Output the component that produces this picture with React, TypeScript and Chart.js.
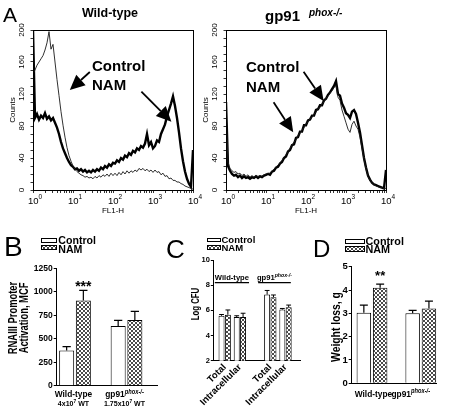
import React, { useEffect, useRef } from 'react';
import { Chart, registerables } from 'chart.js';

Chart.register(...registerables);

const FONT = 'Arial, "Liberation Sans", Helvetica, sans-serif';
Chart.defaults.font.family = FONT;

/* ---------------- Panel A: flow cytometry histograms ---------------- */
const fl1Decades = [
  0, 0.05, 0.1, 0.15, 0.2, 0.25, 0.3, 0.35, 0.4, 0.45,
  0.5, 0.55, 0.6, 0.65, 0.7, 0.75, 0.8, 0.85, 0.9, 0.95,
  1, 1.05, 1.1, 1.15, 1.2, 1.25, 1.3, 1.35, 1.4, 1.45,
  1.5, 1.55, 1.6, 1.65, 1.7, 1.75, 1.8, 1.85, 1.9, 1.95,
  2, 2.05, 2.1, 2.15, 2.2, 2.25, 2.3, 2.35, 2.4, 2.45,
  2.5, 2.55, 2.6, 2.65, 2.7, 2.75, 2.8, 2.85, 2.9, 2.95,
  3, 3.05, 3.1, 3.15, 3.2, 3.25, 3.3, 3.35, 3.4, 3.45,
  3.5, 3.55, 3.6, 3.65, 3.7, 3.75, 3.8, 3.85, 3.9, 3.95,
  4,
];
const wtControlCounts = [
  145, 150, 156, 160, 164, 168, 175, 184, 198, 176,
  182, 160, 138, 118, 98, 81, 66, 53, 43, 36,
  30, 26, 23, 21, 19, 18, 16, 17, 15, 16,
  14, 17, 15, 18, 16, 19, 17, 20, 17, 21,
  18, 21, 18, 22, 19, 23, 20, 24, 21, 24,
  22, 25, 23, 27, 25, 27, 24, 26, 23, 25,
  22, 25, 22, 23, 19, 21, 17, 18, 14, 15,
  12, 12, 10, 10, 8, 7, 5, 4, 3, 2,
  1,
];
const wtNamCounts = [
  200, 90, 95, 88, 93, 90, 96, 89, 92, 87,
  90, 84, 78, 70, 60, 52, 46, 40, 35, 31,
  29, 26, 27, 24, 26, 23, 25, 22, 24, 22,
  25, 23, 26, 24, 28, 26, 30, 28, 32, 30,
  34, 33, 37, 35, 40, 38, 43, 41, 46, 44,
  49, 47, 52, 50, 55, 53, 58, 70, 56, 60,
  52, 55, 62, 60, 70, 76, 82, 92, 100, 108,
  117, 105, 90, 72, 52, 36, 23, 14, 8, 4,
  50,
];
const gpControlCounts = [
  100, 35, 27, 24, 22, 23, 20, 21, 18, 20,
  17, 19, 16, 18, 16, 18, 17, 18, 17, 19,
  20, 21, 21, 24, 26, 29, 31, 34, 37, 41,
  44, 48, 52, 56, 60, 63, 68, 71, 75, 78,
  83, 85, 89, 91, 95, 97, 102, 103, 108, 110,
  115, 117, 121, 124, 128, 131, 116, 112, 100, 92,
  84, 76, 72, 82, 86, 80, 76, 66, 52, 38,
  26, 17, 12, 9, 7, 5, 4, 3, 3, 2,
  2,
];
const gpNamCounts = [
  110, 30, 24, 20, 18, 19, 16, 18, 15, 17,
  15, 16, 14, 16, 15, 17, 15, 17, 16, 18,
  19, 20, 19, 23, 24, 28, 29, 33, 35, 40,
  42, 48, 50, 56, 57, 65, 66, 73, 73, 81,
  81, 87, 88, 93, 93, 100, 101, 106, 106, 112,
  114, 119, 122, 126, 130, 136, 120, 118, 108, 103,
  96, 94, 90, 98, 100, 95, 84, 72, 56, 40,
  28, 18, 13, 9, 7, 6, 5, 4, 3, 2,
  25,
];
const countTicks = [0, 40, 80, 120, 160, 200];
const fl1Exponents = ['0', '1', '2', '3', '4'];
const countsTitle = 'Counts';
const fl1Title = 'FL1-H';

/* ---------------- Panel B: RNAIII promoter activation ---------------- */
const genotypes = ['Wild-type', 'gp91'];
const genotypeSup = ['', 'phox-/-'];
const inoculumBase = ['4x10', '1.75x10'];
const inoculumExp = ['7', '7'];
const inoculumTail = [' WT', ' WT'];
const rnaControl = [375, 635];
const rnaControlErr = [415, 695];
const rnaNam = [908, 700];
const rnaNamErr = [1015, 792];
const rnaNamSig = ['***', ''];

/* ---------------- Panel C: Log CFU ---------------- */
const cfuCategories = ['Total', 'Intracellular', '', 'Total', 'Intracellular'];
const cfuControl = [5.57, 5.47, null, 7.25, 6.06];
const cfuControlErr = [5.67, 5.57, null, 7.58, 6.15];
const cfuNam = [5.65, 5.47, null, 7.05, 6.25];
const cfuNamErr = [6.03, 5.77, null, 7.22, 6.42];
const cfuGroupNames = ['Wild-type', 'gp91'];
const cfuGroupSup = ['', 'phox-/-'];

/* ---------------- Panel D: weight loss ---------------- */
const weightControl = [3.03, 3.0];
const weightControlErr = [3.35, 3.13];
const weightNam = [4.1, 3.21];
const weightNamErr = [4.25, 3.52];
const weightNamSig = ['**', ''];

const seriesNames = ['Control', 'NAM'];

/* ---------------- helpers ---------------- */
type Run = { t: string; size: number; weight?: string; italic?: boolean; dy?: number };
const fontOf = (r: Run) => `${r.italic ? 'italic ' : ''}${r.weight || 'normal'} ${r.size}px ${FONT}`;

function drawRuns(ctx: CanvasRenderingContext2D, runs: Run[], x: number, y: number, align = 'left', sx = 1) {
  ctx.save();
  ctx.textAlign = 'left';
  ctx.textBaseline = 'alphabetic';
  ctx.fillStyle = '#000';
  let w = 0;
  runs.forEach((r) => { ctx.font = fontOf(r); w += ctx.measureText(r.t).width; });
  w *= sx;
  const cx = align === 'center' ? x - w / 2 : align === 'right' ? x - w : x;
  ctx.translate(cx, y);
  ctx.scale(sx, 1);
  let ox = 0;
  runs.forEach((r) => { ctx.font = fontOf(r); ctx.fillText(r.t, ox, r.dy || 0); ox += ctx.measureText(r.t).width; });
  ctx.restore();
}

function drawArrow(ctx: CanvasRenderingContext2D, x1: number, y1: number, x2: number, y2: number) {
  const head = 15, hw = 7;
  const a = Math.atan2(y2 - y1, x2 - x1);
  const bx = x2 - head * Math.cos(a), by = y2 - head * Math.sin(a);
  ctx.lineWidth = 1.8;
  ctx.beginPath(); ctx.moveTo(x1, y1); ctx.lineTo(bx, by); ctx.stroke();
  ctx.beginPath();
  ctx.moveTo(x2, y2);
  ctx.lineTo(bx + hw * Math.sin(a), by - hw * Math.cos(a));
  ctx.lineTo(bx - hw * Math.sin(a), by + hw * Math.cos(a));
  ctx.closePath(); ctx.fill();
}

let hatchCanvas: HTMLCanvasElement | null = null;
function hatchTile() {
  if (!hatchCanvas) {
    const c = document.createElement('canvas');
    c.width = 4; c.height = 4;
    const g = c.getContext('2d')!;
    g.fillStyle = '#fff'; g.fillRect(0, 0, 4, 4);
    g.fillStyle = '#4a4a4a';
    [[0, 0], [1, 1], [2, 2], [3, 3], [3, 0], [2, 1], [1, 2], [0, 3]].forEach(([px, py]) => g.fillRect(px, py, 1, 1));
    hatchCanvas = c;
  }
  return hatchCanvas;
}

type Frame = { left: number; top: number; width: number; height: number; area: { l: number; t: number; r: number; b: number } };
function frameLayout(f: Frame) {
  return {
    padding: { left: 0, top: f.area.t - f.top, right: f.left + f.width - f.area.r, bottom: 0 },
    yW: f.area.l - f.left,
    xH: f.top + f.height - f.area.b,
  };
}

/* ---------------- histogram config ---------------- */
const logTickValues: number[] = [];
for (let n = 0; n < 4; n++) for (let k = 1; k < 10; k++) logTickValues.push(n + Math.log10(k));
logTickValues.push(4);

type Annot = { texts: { t: string; x: number; y: number }[]; arrows: number[][] };
const annotWT: Annot = {
  texts: [{ t: seriesNames[0], x: 1.475, y: 148.5 }, { t: seriesNames[1], x: 1.475, y: 125 }],
  arrows: [[1.42, 147.5, 0.92, 125], [2.71, 122.9, 3.46, 85.4]],
};
const annotGP: Annot = {
  texts: [{ t: seriesNames[0], x: 0.5, y: 147 }, { t: seriesNames[1], x: 0.5, y: 123 }],
  arrows: [[1.19, 109.6, 1.68, 72.1], [1.94, 147.9, 2.44, 111.3]],
};

const histDecor = (annot: Annot) => ({
  id: 'histDecor',
  afterDraw(chart: any) {
    const { ctx, chartArea: a } = chart;
    const x = chart.scales.x, y = chart.scales.y;
    ctx.save();
    ctx.strokeStyle = '#000'; ctx.fillStyle = '#000'; ctx.lineWidth = 1;
    ctx.strokeRect(Math.round(a.left) + 0.5, Math.round(a.top) + 0.5, Math.round(a.right - a.left), Math.round(a.bottom - a.top));
    ctx.font = `8px ${FONT}`; ctx.textAlign = 'center'; ctx.textBaseline = 'middle';
    countTicks.forEach((v) => {
      ctx.save(); ctx.translate(a.left - 11, y.getPixelForValue(v)); ctx.rotate(-Math.PI / 2); ctx.fillText(String(v), 0, 0); ctx.restore();
    });
    ctx.save(); ctx.translate(a.left - 20, y.getPixelForValue(100)); ctx.rotate(-Math.PI / 2); ctx.fillText(countsTitle, 0, 0); ctx.restore();
    fl1Exponents.forEach((e) => drawRuns(ctx, [{ t: '10', size: 9.5 }, { t: e, size: 6.5, dy: -5 }], x.getPixelForValue(Number(e)) + 2, a.bottom + 14, 'center'));
    drawRuns(ctx, [{ t: fl1Title, size: 8 }], (a.left + a.right) / 2, a.bottom + 23, 'center');
    annot.texts.forEach((tx) => drawRuns(ctx, [{ t: tx.t, size: 15, weight: 'bold' }], x.getPixelForValue(tx.x), y.getPixelForValue(tx.y), 'left'));
    annot.arrows.forEach(([x1, y1, x2, y2]) => drawArrow(ctx, x.getPixelForValue(x1), y.getPixelForValue(y1), x.getPixelForValue(x2), y.getPixelForValue(y2)));
    ctx.restore();
  },
});

function histConfig(lay: any, thin: number[], thick: number[], annot: Annot) {
  const tickGrid = (len: number) => ({ display: true, drawOnChartArea: false, drawTicks: true, tickLength: len, color: '#000', lineWidth: 0.8 });
  return {
    type: 'line',
    data: {
      datasets: [
        { data: fl1Decades.map((x, i) => ({ x, y: thin[i] })), borderColor: '#1a1a1a', borderWidth: 0.9, pointRadius: 0, fill: false, tension: 0 },
        { data: fl1Decades.map((x, i) => ({ x, y: thick[i] })), borderColor: '#000', borderWidth: 2.4, pointRadius: 0, fill: false, tension: 0 },
      ],
    },
    options: {
      animation: false, responsive: false, events: [], devicePixelRatio: 1,
      layout: { padding: lay.padding },
      plugins: { legend: { display: false }, tooltip: { enabled: false } },
      scales: {
        x: {
          type: 'linear', min: 0, max: 4,
          afterBuildTicks: (s: any) => { s.ticks = logTickValues.map((v) => ({ value: v })); },
          ticks: { display: false },
          grid: tickGrid(3),
          border: { display: true, color: '#000', width: 1 },
          afterFit: (s: any) => { s.height = lay.xH; },
        },
        y: {
          type: 'linear', min: 0, max: 200,
          ticks: { display: false, stepSize: 10 },
          grid: tickGrid(2.5),
          border: { display: true, color: '#000', width: 1 },
          afterFit: (s: any) => { s.width = lay.yW; },
        },
      },
    },
    plugins: [histDecor(annot)],
  };
}

/* ---------------- bar config ---------------- */
const errorBars = (capRatio: number, errWidth: number, sigSize: number, sigDy: number) => ({
  id: 'errorBars',
  afterDatasetsDraw(chart: any) {
    const { ctx } = chart; const y = chart.scales.y;
    ctx.save(); ctx.strokeStyle = '#000'; ctx.fillStyle = '#000'; ctx.lineWidth = errWidth;
    chart.data.datasets.forEach((ds: any, d: number) => {
      const meta = chart.getDatasetMeta(d);
      ds.data.forEach((p: any, j: number) => {
        const el = meta.data[j]; if (!el || p.err == null) return;
        const yt = y.getPixelForValue(p.err), yb = y.getPixelForValue(p.y);
        const half = (el.width * capRatio) / 2;
        ctx.beginPath(); ctx.moveTo(el.x, yb); ctx.lineTo(el.x, yt); ctx.moveTo(el.x - half, yt); ctx.lineTo(el.x + half, yt); ctx.stroke();
        if (p.sig) {
          ctx.font = `bold ${sigSize}px ${FONT}`; ctx.textAlign = 'center'; ctx.textBaseline = 'alphabetic';
          ctx.fillText(p.sig, el.x, yt + sigDy);
        }
      });
    });
    ctx.restore();
  },
});

const groupLabels = (rows: Run[][][], baselines: number[], dx: number[], sx: number) => ({
  id: 'groupLabels',
  afterDraw(chart: any) {
    const x = chart.scales.x; const b = chart.chartArea.bottom;
    rows.forEach((row, li) => row.forEach((runs, gi) => drawRuns(chart.ctx, runs, x.getPixelForValue(gi) + dx[gi], b + baselines[li], 'center', sx)));
  },
});

function barConfig(lay: any, s: any) {
  const pts = (vals: any[], errs: any[], sigs?: string[]) =>
    s.categories.map((_: any, i: number) => (vals[i] == null ? null : { x: i, y: vals[i], err: errs[i], sig: sigs ? sigs[i] : '' })).filter((p: any) => p);
  const hatch = (hatchTile().getContext('2d') as CanvasRenderingContext2D).createPattern(hatchTile(), 'repeat');
  const common = { borderColor: '#000', borderWidth: 1, categoryPercentage: s.catPct, barPercentage: s.barPct };
  return {
    type: 'bar',
    data: {
      datasets: [
        { label: seriesNames[0], data: pts(s.control, s.controlErr), backgroundColor: '#fff', ...common },
        { label: seriesNames[1], data: pts(s.nam, s.namErr, s.namSig), backgroundColor: hatch, ...common },
      ],
    },
    options: {
      animation: false, responsive: false, events: [], devicePixelRatio: 1,
      layout: { padding: lay.padding },
      plugins: { legend: { display: false }, tooltip: { enabled: false } },
      scales: {
        x: {
          type: 'linear', offset: false, min: s.xMin, max: s.xMax,
          afterBuildTicks: (sc: any) => { sc.ticks = s.categories.map((c: string, i: number) => (c ? { value: i } : null)).filter((t: any) => t); },
          ticks: {
            display: !!s.rotatedLabels, autoSkip: false, minRotation: 45, maxRotation: 45, padding: 1, color: '#000',
            font: { family: FONT, weight: 'bold', size: s.labelSize || 9 },
            callback: (v: any) => s.categories[Number(v)],
          },
          grid: { display: true, drawOnChartArea: false, drawTicks: false, offset: false },
          border: { display: true, color: '#000', width: 1 },
          afterFit: (sc: any) => { sc.height = lay.xH; },
        },
        y: {
          type: 'linear', min: s.yMin, max: s.yMax,
          ticks: {
            stepSize: s.yStep, padding: 1, color: '#000', font: { family: FONT, weight: 'bold', size: s.tickSize },
            callback: (v: any) => String(v),
          },
          grid: { display: true, drawOnChartArea: false, drawTicks: true, tickLength: s.tickLength, color: '#000', lineWidth: 1 },
          border: { display: true, color: '#000', width: 1 },
          afterFit: (sc: any) => { sc.width = lay.yW; },
        },
      },
    },
    plugins: [errorBars(s.capRatio, s.errWidth, s.sigSize, s.sigDy), ...(s.extra || [])],
  };
}

/* label runs */
const genotypeRuns = (size: number, supSize: number, supDy: number): Run[][] =>
  genotypes.map((g, i) => [
    { t: g, size, weight: 'bold' },
    ...(genotypeSup[i] ? [{ t: genotypeSup[i], size: supSize, weight: 'bold', italic: true, dy: supDy }] : []),
  ]);
const inoculumRuns: Run[][] = inoculumBase.map((b, i) => [
  { t: b, size: 8, weight: 'bold' },
  { t: inoculumExp[i], size: 5.5, weight: 'bold', dy: -3 },
  { t: inoculumTail[i], size: 8, weight: 'bold' },
]);

const cfuBracketLevel = 8.2;
const cfuBracketSpans = [[-0.65, 1.6], [2.2, 4.35]];
const cfuBrackets = {
  id: 'cfuBrackets',
  afterDraw(chart: any) {
    const { ctx } = chart; const x = chart.scales.x, y = chart.scales.y;
    const py = y.getPixelForValue(cfuBracketLevel);
    cfuBracketSpans.forEach(([a, b], i) => {
      const x1 = x.getPixelForValue(a), x2 = x.getPixelForValue(b);
      ctx.save(); ctx.strokeStyle = '#000'; ctx.lineWidth = 1.2;
      ctx.beginPath(); ctx.moveTo(x1, py); ctx.lineTo(x2, py); ctx.stroke(); ctx.restore();
      const runs: Run[] = [{ t: cfuGroupNames[i], size: 8, weight: 'bold' }];
      if (cfuGroupSup[i]) runs.push({ t: cfuGroupSup[i], size: 5.5, weight: 'bold', italic: true, dy: -3 });
      drawRuns(ctx, runs, (x1 + x2) / 2, py - 2.5, 'center', 0.95);
    });
  },
};

/* ---------------- frames ---------------- */
const frameAL: Frame = { left: 0, top: 0, width: 215, height: 215, area: { l: 33, t: 30, r: 193, b: 190 } };
const frameAR: Frame = { left: 200, top: 0, width: 215, height: 215, area: { l: 226, t: 30, r: 386, b: 190 } };
const frameB: Frame = { left: 0, top: 255, width: 170, height: 157, area: { l: 56.7, t: 268.3, r: 157, b: 385.7 } };
const frameC: Frame = { left: 165, top: 250, width: 145, height: 162, area: { l: 213.3, t: 260, r: 300, b: 360.7 } };
const frameD: Frame = { left: 310, top: 255, width: 140, height: 157, area: { l: 351.7, t: 266.7, r: 436.7, b: 383.3 } };

function ChartCanvas({ frame, build }: { frame: Frame; build: (lay: any) => any }) {
  const ref = useRef<HTMLCanvasElement>(null);
  useEffect(() => {
    const chart = new Chart(ref.current as HTMLCanvasElement, build(frameLayout(frame)) as any);
    return () => chart.destroy();
  }, []);
  return (
    <canvas ref={ref} width={frame.width} height={frame.height}
      style={{ position: 'absolute', left: frame.left, top: frame.top, width: frame.width, height: frame.height }} />
  );
}

function Txt({ x, y, size, weight = 'normal', italic = false, align = 'left', children }: any) {
  return (
    <div style={{
      position: 'absolute', left: x, top: y - 0.8465 * size, fontFamily: FONT, fontSize: size, lineHeight: `${size}px`,
      fontWeight: weight, fontStyle: italic ? 'italic' : 'normal', whiteSpace: 'nowrap', color: '#000',
      transform: align === 'center' ? 'translateX(-50%)' : undefined,
    }}>{children}</div>
  );
}

function VTxt({ cx, cy, size, weight = 'bold', sx = 1, children }: any) {
  return (
    <div style={{
      position: 'absolute', left: cx, top: cy, fontFamily: FONT, fontSize: size, lineHeight: `${size}px`,
      fontWeight: weight, whiteSpace: 'nowrap', color: '#000',
      transform: `translate(-50%,-50%) rotate(-90deg) scaleX(${sx})`,
    }}>{children}</div>
  );
}

function Swatch({ x, y, w, h, hatch }: any) {
  return (
    <div style={{
      position: 'absolute', left: x, top: y, width: w, height: h, boxSizing: 'border-box', border: '1px solid #000',
      background: hatch ? `url(${hatchTile().toDataURL()})` : '#fff',
    }} />
  );
}

function Legend({ x, y1, y2, w, h, tx, b1, b2, size }: any) {
  return (
    <>
      <Swatch x={x} y={y1} w={w} h={h} hatch={false} />
      <Swatch x={x} y={y2} w={w} h={h} hatch={true} />
      <Txt x={tx} y={b1} size={size} weight="bold">{seriesNames[0]}</Txt>
      <Txt x={tx} y={b2} size={size} weight="bold">{seriesNames[1]}</Txt>
    </>
  );
}

export default function App() {
  return (
    <div style={{ position: 'absolute', left: 0, top: 0, width: 450, height: 412, background: '#fff', overflow: 'hidden' }}>
      <ChartCanvas frame={frameAL} build={(lay) => histConfig(lay, wtControlCounts, wtNamCounts, annotWT)} />
      <ChartCanvas frame={frameAR} build={(lay) => histConfig(lay, gpControlCounts, gpNamCounts, annotGP)} />
      <ChartCanvas frame={frameB} build={(lay) => barConfig(lay, {
        categories: genotypes, control: rnaControl, controlErr: rnaControlErr, nam: rnaNam, namErr: rnaNamErr, namSig: rnaNamSig,
        yMin: 0, yMax: 1250, yStep: 250, xMin: -0.3553, xMax: 1.592, catPct: 0.648, barPct: 0.9,
        capRatio: 0.55, errWidth: 1.2, sigSize: 14, sigDy: 1, tickSize: 8.5, tickLength: 3,
        extra: [groupLabels([genotypeRuns(9.5, 6.5, -3.5), inoculumRuns], [11.3, 19.8], [-1.5, -2], 0.88)],
      })} />
      <ChartCanvas frame={frameC} build={(lay) => barConfig(lay, {
        categories: cfuCategories, control: cfuControl, controlErr: cfuControlErr, nam: cfuNam, namErr: cfuNamErr, namSig: null,
        yMin: 2, yMax: 10, yStep: 2, xMin: -0.75, xMax: 4.954, catPct: 0.835, barPct: 0.945,
        capRatio: 0.8, errWidth: 1, sigSize: 10, sigDy: 0, tickSize: 7.5, tickLength: 2.5,
        rotatedLabels: true, labelSize: 9.5, extra: [cfuBrackets],
      })} />
      <ChartCanvas frame={frameD} build={(lay) => barConfig(lay, {
        categories: genotypes, control: weightControl, controlErr: weightControlErr, nam: weightNam, namErr: weightNamErr, namSig: weightNamSig,
        yMin: 0, yMax: 5, yStep: 1, xMin: -0.416, xMax: 1.326, catPct: 0.668, barPct: 0.89,
        capRatio: 0.55, errWidth: 1.2, sigSize: 13, sigDy: -3.7, tickSize: 9.5, tickLength: 3,
        extra: [groupLabels([genotypeRuns(9.5, 6.5, -3.5)], [13.2], [1.5, -10], 0.88)],
      })} />

      {/* Panel A titles */}
      <Txt x={3} y={22} size={21}>A</Txt>
      <Txt x={110} y={17.5} size={12.5} weight="bold" align="center">{genotypes[0]}</Txt>
      <Txt x={265} y={21} size={15} weight="bold">{genotypes[1]}</Txt>
      <Txt x={309} y={16} size={10} weight="bold" italic>{genotypeSup[1]}</Txt>

      {/* Panel B */}
      <Txt x={4} y={257} size={28}>B</Txt>
      <Legend x={40.7} y1={238} y2={244.7} w={16.6} h={5} tx={58.3} b1={244.3} b2={252.7} size={10.6} />
      <VTxt cx={11.5} cy={317.5} size={13} sx={0.72}>RNAIII Promoter</VTxt>
      <VTxt cx={22.5} cy={317.5} size={13} sx={0.72}>Activation, MCF</VTxt>

      {/* Panel C */}
      <Txt x={166} y={258} size={26}>C</Txt>
      <Legend x={206.7} y1={237.5} y2={245} w={14} h={4.7} tx={221.5} b1={243.3} b2={251.2} size={9.5} />
      <VTxt cx={196} cy={304} size={10} sx={0.78}>Log CFU</VTxt>

      {/* Panel D */}
      <Txt x={313} y={257} size={24}>D</Txt>
      <Legend x={345} y1={238.5} y2={246} w={19.5} h={5.5} tx={365.5} b1={245} b2={253.3} size={10.8} />
      <VTxt cx={336} cy={327} size={12} sx={0.86}>Weight loss, g</VTxt>
    </div>
  );
}
